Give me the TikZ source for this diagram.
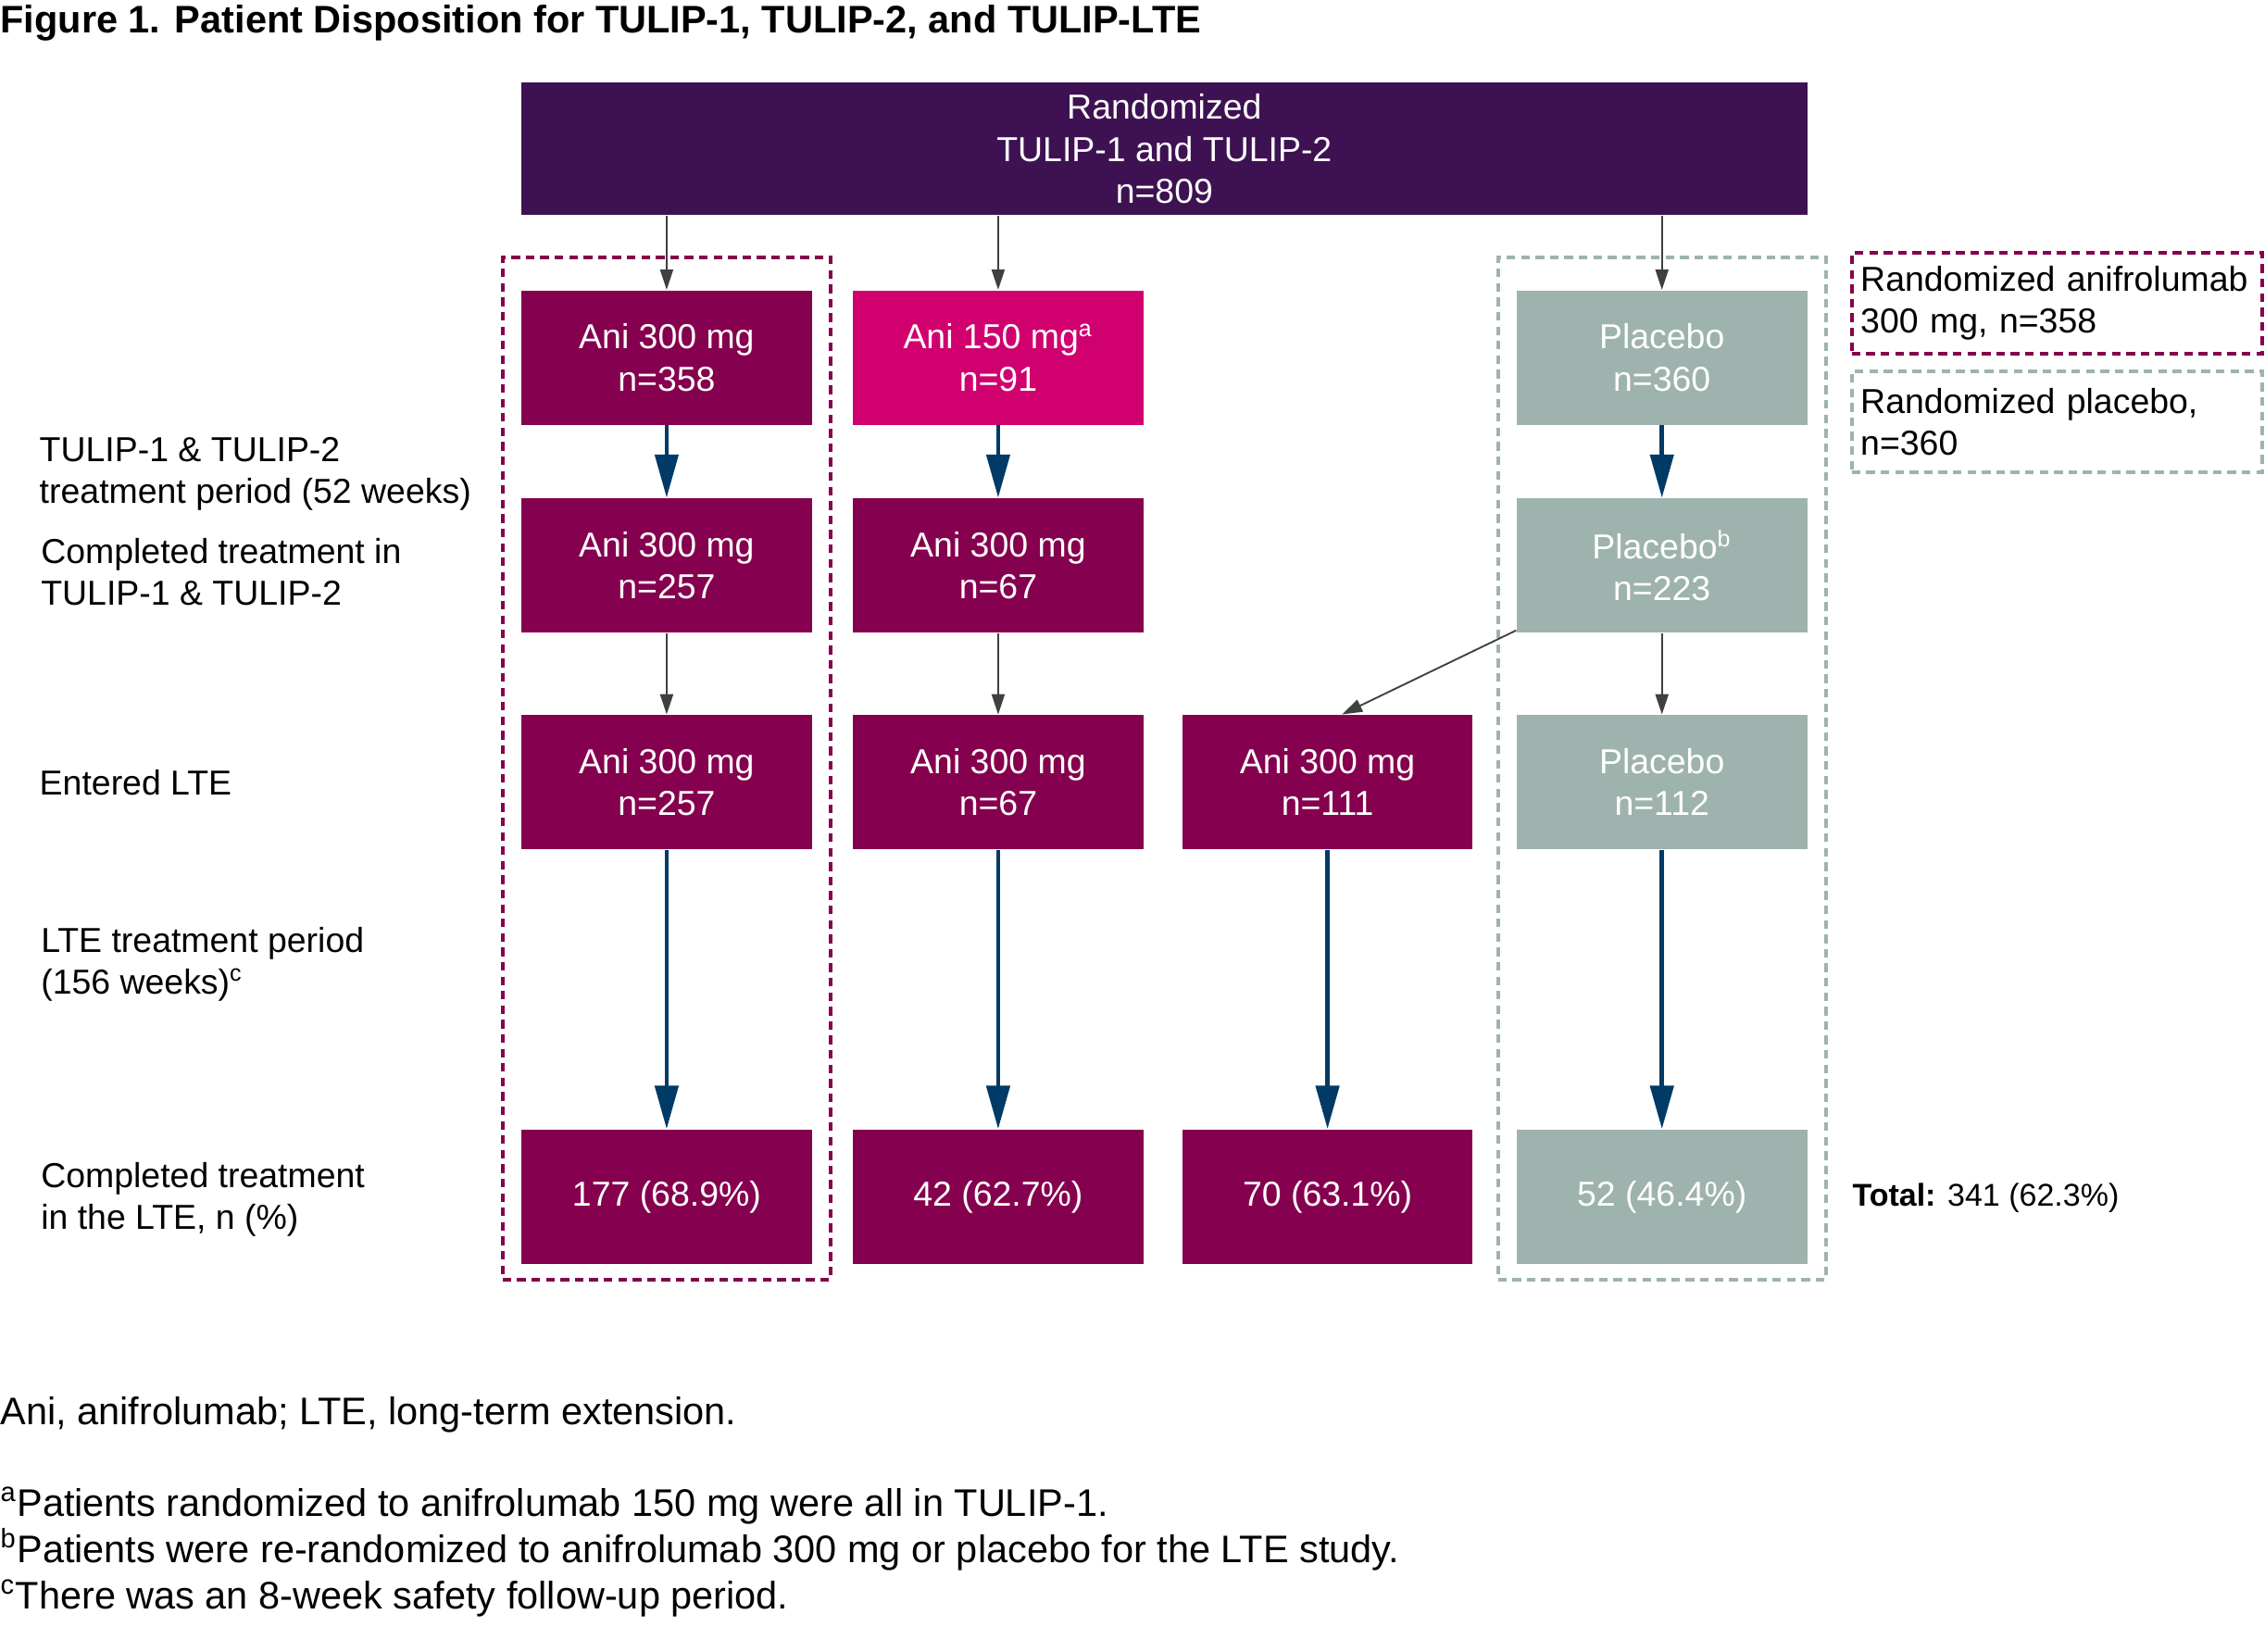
\documentclass[tikz,border=0pt]{standalone}
\usepackage{fontspec}
\setmainfont{Liberation Sans}
\usetikzlibrary{arrows.meta}
\definecolor{cTop}{RGB}{62,18,82}
\definecolor{cMaroon}{RGB}{133,0,78}
\definecolor{cMagenta}{RGB}{208,0,111}
\definecolor{cSage}{RGB}{158,179,173}
\definecolor{cNavy}{RGB}{0,58,102}
\definecolor{cGray}{RGB}{64,64,64}
\begin{document}
\begin{tikzpicture}[x=0.5pt,y=-0.5pt,
  box/.style={rectangle, minimum width=100.5pt, minimum height=46.5pt, inner sep=0pt,
    text=white, align=center, font=\fontsize{12}{14.5}\selectfont},
  anibox/.style={box, fill=cMaroon},
  lowbox/.style={box, fill=cMagenta},
  plabox/.style={box, fill=cSage},
  topbox/.style={box, fill=cTop, minimum width=445pt, minimum height=46pt},
  navyarrow/.style={draw=cNavy, line width=1.5pt, -{Triangle[length=15pt,width=8pt]}},
  grayarrow/.style={draw=cGray, line width=0.6pt, -{Triangle[length=7pt,width=4.5pt]}},
  groupmag/.style={rectangle, draw=cMaroon, line width=1.2pt, dash pattern=on 3pt off 2pt, inner sep=0pt},
  groupsage/.style={rectangle, draw=cSage, line width=1.2pt, dash pattern=on 3pt off 2pt, inner sep=0pt},
  sidelabel/.style={anchor=west, inner sep=0pt, align=left, font=\fontsize{12}{14.5}\selectfont},
  legendtext/.style={align=left, text width=136pt, inner xsep=3pt, inner ysep=0pt, minimum width=142pt, minimum height=35pt, font=\fontsize{12}{14.5}\selectfont},
  notetext/.style={anchor=base west, inner sep=0pt, font=\fontsize{13.3}{16}\selectfont}
]
\useasboundingbox (0,0) rectangle (1568,1143);

% title
\node[anchor=base west, inner sep=0pt, font=\fontsize{13.3}{16}\selectfont\bfseries] (title) at (0,23)
  {Figure 1. Patient Disposition for TULIP-1, TULIP-2, and TULIP-LTE};

% group frames
\node[groupmag, minimum width=113.5pt, minimum height=354pt] (gA) at (461.5,532) {};
\node[groupsage, minimum width=113.5pt, minimum height=354pt] (gP) at (1150.5,532) {};

% top
\node[topbox] (top) at (806,103) {Randomized\\TULIP-1 and TULIP-2\\n=809};

% row 1
\node[anibox] (a1) at (461.5,247.5) {Ani 300 mg\\n=358};
\node[lowbox] (l1) at (691,247.5) {Ani 150 mg\textsuperscript{a}\\n=91};
\node[plabox] (p1) at (1150.5,247.5) {Placebo\\n=360};

% row 2
\node[anibox] (a2) at (461.5,391.5) {Ani 300 mg\\n=257};
\node[anibox] (l2) at (691,391.5) {Ani 300 mg\\n=67};
\node[plabox] (p2) at (1150.5,391.5) {Placebo\textsuperscript{b}\\n=223};

% row 3
\node[anibox] (a3) at (461.5,541.5) {Ani 300 mg\\n=257};
\node[anibox] (l3) at (691,541.5) {Ani 300 mg\\n=67};
\node[anibox] (r3) at (919,541.5) {Ani 300 mg\\n=111};
\node[plabox] (p3) at (1150.5,541.5) {Placebo\\n=112};

% row 4
\node[anibox] (a4) at (461.5,828.5) {177 (68.9\%)};
\node[anibox] (l4) at (691,828.5) {42 (62.7\%)};
\node[anibox] (r4) at (919,828.5) {70 (63.1\%)};
\node[plabox] (p4) at (1150.5,828.5) {52 (46.4\%)};

% arrows from top
\draw[grayarrow] (top.south -| a1.north) -- (a1.north);
\draw[grayarrow] (top.south -| l1.north) -- (l1.north);
\draw[grayarrow] (top.south -| p1.north) -- (p1.north);

% row1 -> row2
\draw[navyarrow] (a1.south) -- (a2.north);
\draw[navyarrow] (l1.south) -- (l2.north);
\draw[navyarrow] (p1.south) -- (p2.north);

% row2 -> row3
\draw[grayarrow] (a2.south) -- (a3.north);
\draw[grayarrow] (l2.south) -- (l3.north);
\draw[grayarrow] (p2.south) -- (p3.north);
\draw[grayarrow] ([yshift=1pt]p2.south west) -- ([xshift=5pt]r3.north);

% row3 -> row4
\draw[navyarrow] (a3.south) -- (a4.north);
\draw[navyarrow] (l3.south) -- (l4.north);
\draw[navyarrow] (r3.south) -- (r4.north);
\draw[navyarrow] (p3.south) -- (p4.north);

% side labels
\node[sidelabel] (s1) at (27,328) {TULIP-1 \& TULIP-2\\treatment period (52 weeks)};
\node[sidelabel] (s2) at (28,396) {Completed treatment in\\TULIP-1 \& TULIP-2};
\node[sidelabel] (s3) at (27,541.5) {Entered LTE};
\node[sidelabel] (s4) at (28,667.5) {LTE treatment period\\(156 weeks)\textsuperscript{c}};
\node[sidelabel] (s5) at (28,830.5) {Completed treatment\\in the LTE, n (\%)};

% legend
\node[legendtext, groupmag] (legA) at (1424,210) {\mbox{Randomized anifrolumab}\\300 mg, n=358};
\node[legendtext, groupsage] (legP) at (1424,292) {\mbox{Randomized placebo,}\\n=360};

% total
\node[anchor=west, inner sep=0pt, font=\fontsize{10.9}{13}\selectfont] (total) at (1282,829)
  {\textbf{Total:} 341 (62.3\%)};

% footnotes
\node[notetext] (n0) at (0,986) {Ani, anifrolumab; LTE, long-term extension.};
\node[notetext] (n1) at (0,1050) {\textsuperscript{a}Patients randomized to anifrolumab 150 mg were all in TULIP-1.};
\node[notetext] (n2) at (0,1082) {\textsuperscript{b}Patients were re-randomized to anifrolumab 300 mg or placebo for the LTE study.};
\node[notetext] (n3) at (0,1114) {\textsuperscript{c}There was an 8-week safety follow-up period.};
\end{tikzpicture}
\end{document}
